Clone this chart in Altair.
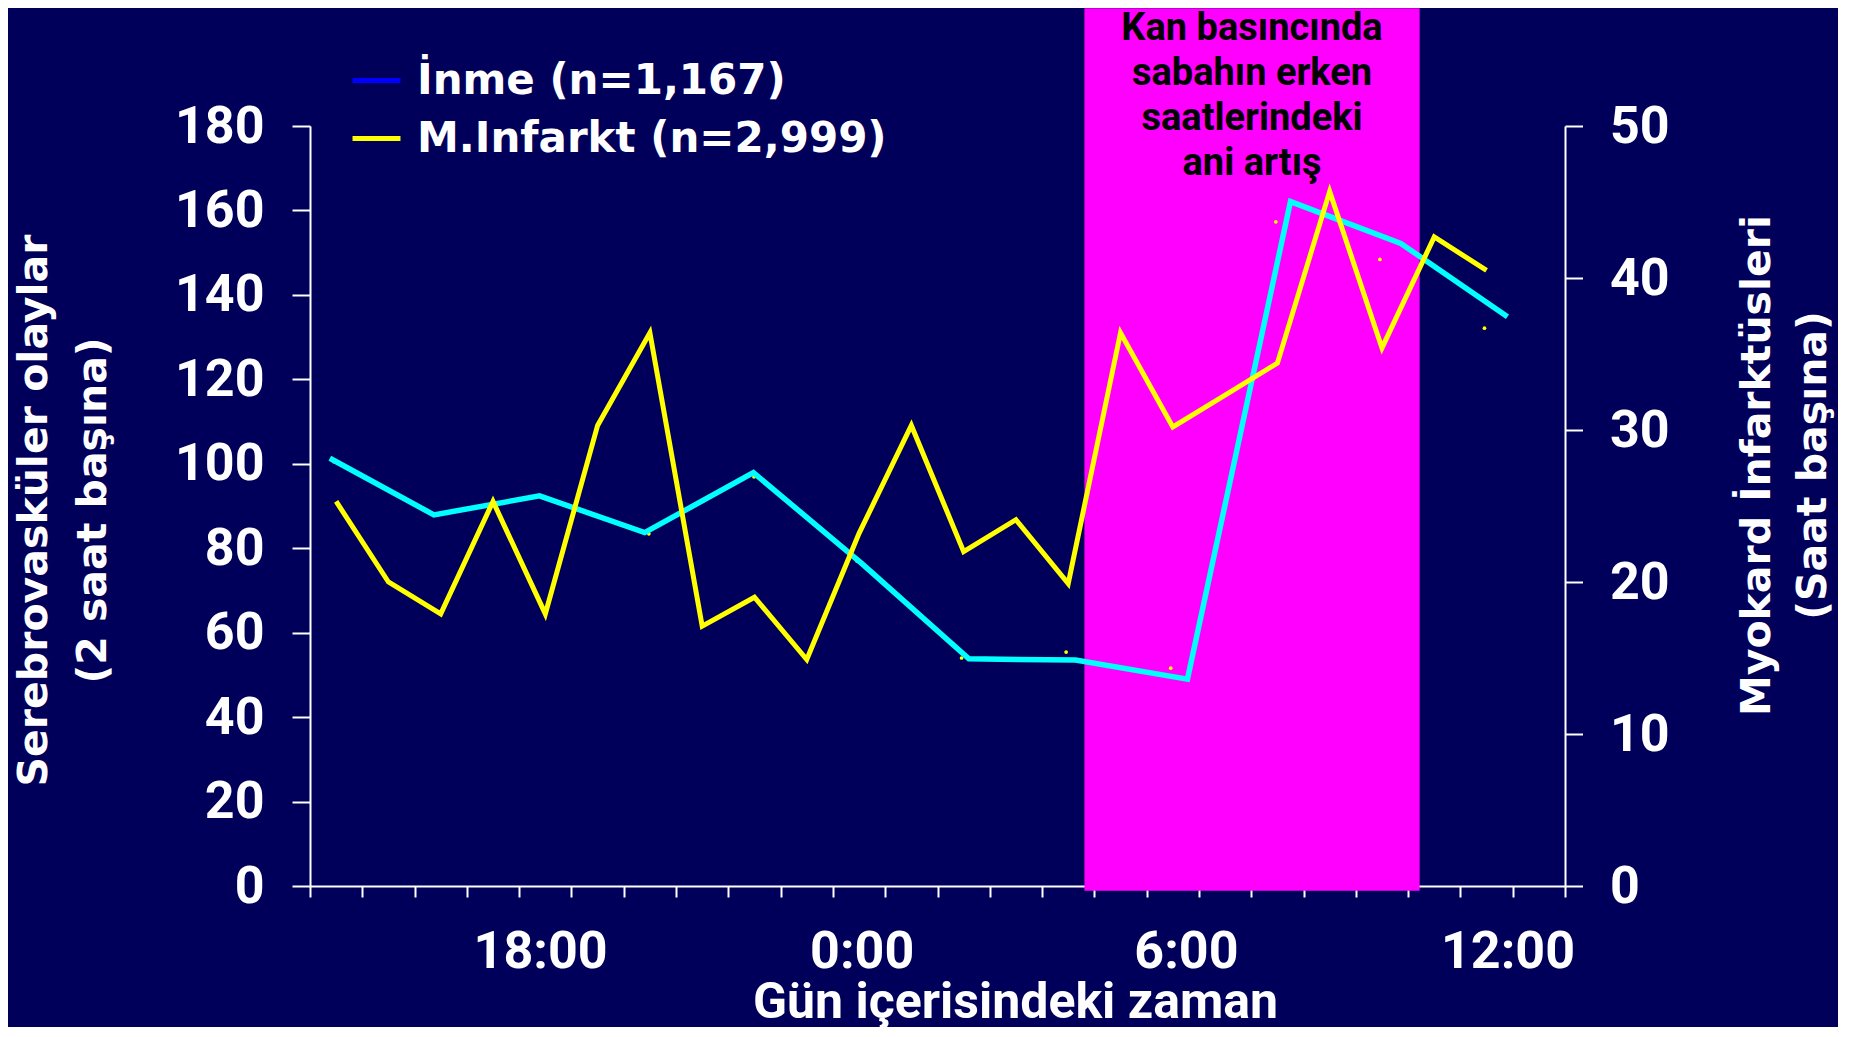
import altair as alt
import pandas as pd

# ---- data ----
inme_saat = [0.38, 2.37, 4.39, 6.40, 8.48, 10.56, 12.6, 14.64, 16.78, 18.75, 20.86, 22.9]
inme_olay = [101.3, 87.9, 92.4, 83.7, 97.9, 76.3, 53.8, 53.5, 49.0, 162.1, 152.2, 134.8]

isaret_saat = [0.46, 2.46, 4.46, 6.48, 8.49, 10.46, 12.46, 14.46, 16.46, 18.47, 20.46, 22.46]
isaret_olay = [100.5, 88.0, 92.0, 83.4, 96.9, 77.0, 54.0, 55.4, 51.6, 157.3, 148.4, 132.1]

mi_saat = [0.5, 1.5, 2.5, 3.5, 4.5, 5.5, 6.5, 7.5, 8.5, 9.5, 10.5, 11.5,
           12.5, 13.5, 14.5, 15.5, 16.5, 17.5, 18.5, 19.5, 20.5, 21.5, 22.5]
mi_olay = [25.3, 20.0, 17.9, 25.3, 17.9, 30.3, 36.4, 17.1, 19.0, 14.9, 23.2, 30.3,
           22.0, 24.1, 19.9, 36.4, 30.2, 32.3, 34.4, 45.7, 35.4, 42.7, 40.5]

seriler = ["İnme (n=1,167)", "M.Infarkt (n=2,999)"]
seri_renk = ["#0000FF", "#FFFF00"]

saat_etiket = ["18:00", "0:00", "6:00", "12:00"]
saat_etiket_konum = [4.4, 10.55, 16.75, 22.9]
saat_tikleri = list(range(0, 25))

bant_bas, bant_son = 14.81, 21.22
bant_metin = "Kan basıncında\nsabahın erken\nsaatlerindeki\nani artış"

sol_baslik = ["Serebrovasküler olaylar", "(2 saat başına)"]
sag_baslik = ["Myokard İnfarktüsleri", "(Saat başına)"]
x_baslik = "Gün içerisindeki zaman"

# ---- tables ----
df_inme = pd.DataFrame({"saat": inme_saat, "deger": inme_olay, "seri": seriler[0]})
df_isaret = pd.DataFrame({"saat": isaret_saat, "deger": isaret_olay})
df_mi = pd.DataFrame({"saat": mi_saat, "deger": mi_olay, "seri": seriler[1]})
df_bant = pd.DataFrame({"saat": [bant_bas], "saat2": [bant_son], "deger": [-1.1], "deger2": [207.9]})
df_metin = pd.DataFrame({"saat": [(bant_bas + bant_son) / 2], "deger": [207.4], "metin": [bant_metin]})

WHITE = "#FFFFFF"
xscale = alt.Scale(domain=[0, 24], nice=False, zero=False)

label_expr = " : ".join(
    f"abs(datum.value - {p}) < 0.01 ? '{t}'" for p, t in zip(saat_etiket_konum, saat_etiket)
) + " : ''"

x_tick_axis = alt.Axis(values=saat_tikleri, labels=False, title=None, orient="bottom",
                       domainColor=WHITE, domainWidth=2, tickColor=WHITE, tickWidth=2,
                       tickSize=11, grid=False)
x_label_axis = alt.Axis(values=saat_etiket_konum, labelExpr=label_expr, orient="bottom",
                        ticks=False, domain=False, grid=False, tickSize=0,
                        labelFont="Roboto", labelFontWeight="bold", labelFontSize=52,
                        labelColor=WHITE, labelPadding=40, labelFlush=False,
                        labelOverlap=False,
                        title=x_baslik, titleFont="Roboto", titleFontWeight="bold",
                        titleFontSize=50, titleColor=WHITE, titleX=705, titleY=91,
                        titleBaseline="top", titleAlign="center")

x_ticks = alt.X("saat:Q", scale=xscale, axis=x_tick_axis)
x_labels = alt.X("saat:Q", scale=xscale, axis=x_label_axis)

left_axis = alt.Axis(values=list(range(0, 181, 20)), orient="left", grid=False,
                     domainColor=WHITE, domainWidth=2, tickColor=WHITE, tickWidth=2,
                     tickSize=18, labelPadding=28, labelFont="Roboto",
                     labelFontWeight="bold", labelFontSize=52, labelColor=WHITE,
                     title=sol_baslik, titleFont="DejaVu Sans", titleFontWeight="bold",
                     titleFontSize=41, titleColor=WHITE, titleAngle=270,
                     titleBaseline="bottom", titleLineHeight=59, titleX=-255, titleY=384,
                     titleAlign="center")
right_axis = alt.Axis(values=list(range(0, 51, 10)), orient="right", grid=False,
                      domainColor=WHITE, domainWidth=2, tickColor=WHITE, tickWidth=2,
                      tickSize=17.5, labelPadding=27, labelFont="Roboto",
                      labelFontWeight="bold", labelFontSize=52, labelColor=WHITE,
                      title=sag_baslik, titleFont="DejaVu Sans", titleFontWeight="bold",
                      titleFontSize=41, titleColor=WHITE, titleAngle=270,
                      titleBaseline="top", titleLineHeight=56, titleX=172, titleY=339,
                      titleAlign="center")

y_left = alt.Y("deger:Q", scale=alt.Scale(domain=[0, 180], nice=False, zero=True), axis=left_axis)
y_right = alt.Y("deger:Q", scale=alt.Scale(domain=[0, 50], nice=False, zero=True), axis=right_axis)

color = alt.Color("seri:N", scale=alt.Scale(domain=seriler, range=seri_renk),
                  legend=alt.Legend(title=None, orient="none", legendX=40, legendY=-72,
                                    direction="vertical", symbolType="stroke",
                                    symbolSize=2300, symbolStrokeWidth=5,
                                    labelFont="DejaVu Sans", labelFontWeight="bold",
                                    labelFontSize=42, labelColor=WHITE, labelOffset=14,
                                    rowPadding=10, padding=0, labelLimit=1000))

bant = alt.Chart(df_bant).mark_rect(color="#FF00FF").encode(
    x=x_ticks, x2="saat2:Q", y=y_left, y2="deger2:Q")
metin = alt.Chart(df_metin).mark_text(
    font="Roboto", fontWeight="bold", fontSize=38, color="#000000",
    align="center", baseline="top", lineBreak="\n", lineHeight=45
).encode(x=x_ticks, y=y_left, text="metin:N")
isaret = alt.Chart(df_isaret).mark_circle(color="#FFFF00", size=14, opacity=1).encode(
    x=x_ticks, y=y_left)
inme = alt.Chart(df_inme).mark_line(strokeWidth=5.5, strokeJoin="miter").encode(
    x=x_ticks, y=y_left, color=color, stroke=alt.value("#00FFFF"))

sol = alt.layer(bant, metin, isaret, inme)

mi = alt.Chart(df_mi).mark_line(strokeWidth=5, strokeJoin="miter").encode(
    x=x_labels, y=y_right, color=color)
sag = alt.layer(mi)

chart = alt.layer(sol, sag).resolve_scale(y="independent").resolve_axis(
    x="independent", y="independent"
).properties(
    width=1255, height=760,
    background="#00005A",
    padding={"left": 5, "top": 0, "right": 5, "bottom": 0},
).configure_view(stroke=None)

chart.save("out.html", embed_options={"renderer": "svg", "actions": False})
